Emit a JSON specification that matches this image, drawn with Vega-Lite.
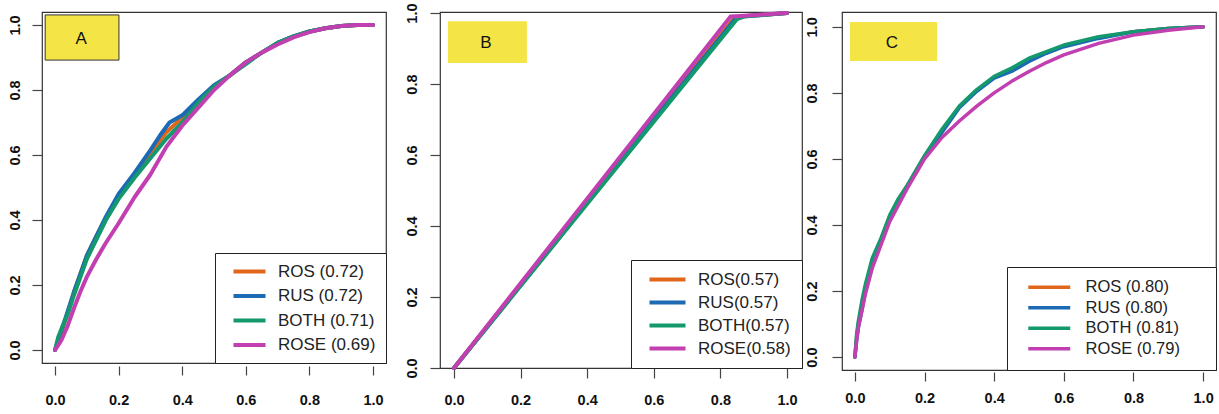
{
  "$schema": "https://vega.github.io/schema/vega-lite/v6.json",
  "background": "white",
  "padding": {"left": 6, "top": 2, "right": 2, "bottom": 2},
  "bounds": "flush",
  "spacing": 54,
  "resolve": {"scale": {"color": "independent"}, "legend": {"color": "independent"}},
  "datasets": {
    "A": [
      {"curve":"ROS (0.72)","fpr":0,"tpr":0},{"curve":"ROS (0.72)","fpr":0.01,"tpr":0.025},{"curve":"ROS (0.72)","fpr":0.02,"tpr":0.055},{"curve":"ROS (0.72)","fpr":0.04,"tpr":0.115},{"curve":"ROS (0.72)","fpr":0.06,"tpr":0.18},{"curve":"ROS (0.72)","fpr":0.08,"tpr":0.235},{"curve":"ROS (0.72)","fpr":0.1,"tpr":0.29},{"curve":"ROS (0.72)","fpr":0.13,"tpr":0.35},{"curve":"ROS (0.72)","fpr":0.16,"tpr":0.405},{"curve":"ROS (0.72)","fpr":0.2,"tpr":0.475},{"curve":"ROS (0.72)","fpr":0.25,"tpr":0.54},{"curve":"ROS (0.72)","fpr":0.3,"tpr":0.605},{"curve":"ROS (0.72)","fpr":0.35,"tpr":0.67},{"curve":"ROS (0.72)","fpr":0.4,"tpr":0.715},{"curve":"ROS (0.72)","fpr":0.45,"tpr":0.765},{"curve":"ROS (0.72)","fpr":0.5,"tpr":0.812},{"curve":"ROS (0.72)","fpr":0.55,"tpr":0.845},{"curve":"ROS (0.72)","fpr":0.6,"tpr":0.885},{"curve":"ROS (0.72)","fpr":0.65,"tpr":0.915},{"curve":"ROS (0.72)","fpr":0.7,"tpr":0.945},{"curve":"ROS (0.72)","fpr":0.75,"tpr":0.965},{"curve":"ROS (0.72)","fpr":0.8,"tpr":0.98},{"curve":"ROS (0.72)","fpr":0.85,"tpr":0.99},{"curve":"ROS (0.72)","fpr":0.9,"tpr":0.997},{"curve":"ROS (0.72)","fpr":0.95,"tpr":1},{"curve":"ROS (0.72)","fpr":1,"tpr":1},
      {"curve":"RUS (0.72)","fpr":0,"tpr":0},{"curve":"RUS (0.72)","fpr":0.01,"tpr":0.03},{"curve":"RUS (0.72)","fpr":0.02,"tpr":0.06},{"curve":"RUS (0.72)","fpr":0.04,"tpr":0.12},{"curve":"RUS (0.72)","fpr":0.06,"tpr":0.18},{"curve":"RUS (0.72)","fpr":0.08,"tpr":0.235},{"curve":"RUS (0.72)","fpr":0.1,"tpr":0.29},{"curve":"RUS (0.72)","fpr":0.13,"tpr":0.35},{"curve":"RUS (0.72)","fpr":0.16,"tpr":0.41},{"curve":"RUS (0.72)","fpr":0.2,"tpr":0.48},{"curve":"RUS (0.72)","fpr":0.25,"tpr":0.545},{"curve":"RUS (0.72)","fpr":0.3,"tpr":0.615},{"curve":"RUS (0.72)","fpr":0.33,"tpr":0.66},{"curve":"RUS (0.72)","fpr":0.36,"tpr":0.7},{"curve":"RUS (0.72)","fpr":0.4,"tpr":0.722},{"curve":"RUS (0.72)","fpr":0.45,"tpr":0.77},{"curve":"RUS (0.72)","fpr":0.5,"tpr":0.815},{"curve":"RUS (0.72)","fpr":0.55,"tpr":0.845},{"curve":"RUS (0.72)","fpr":0.6,"tpr":0.885},{"curve":"RUS (0.72)","fpr":0.65,"tpr":0.915},{"curve":"RUS (0.72)","fpr":0.7,"tpr":0.945},{"curve":"RUS (0.72)","fpr":0.75,"tpr":0.965},{"curve":"RUS (0.72)","fpr":0.8,"tpr":0.98},{"curve":"RUS (0.72)","fpr":0.85,"tpr":0.99},{"curve":"RUS (0.72)","fpr":0.9,"tpr":0.997},{"curve":"RUS (0.72)","fpr":0.95,"tpr":1},{"curve":"RUS (0.72)","fpr":1,"tpr":1},
      {"curve":"BOTH (0.71)","fpr":0,"tpr":0},{"curve":"BOTH (0.71)","fpr":0.01,"tpr":0.04},{"curve":"BOTH (0.71)","fpr":0.02,"tpr":0.065},{"curve":"BOTH (0.71)","fpr":0.04,"tpr":0.11},{"curve":"BOTH (0.71)","fpr":0.06,"tpr":0.17},{"curve":"BOTH (0.71)","fpr":0.08,"tpr":0.225},{"curve":"BOTH (0.71)","fpr":0.1,"tpr":0.28},{"curve":"BOTH (0.71)","fpr":0.13,"tpr":0.34},{"curve":"BOTH (0.71)","fpr":0.16,"tpr":0.4},{"curve":"BOTH (0.71)","fpr":0.2,"tpr":0.465},{"curve":"BOTH (0.71)","fpr":0.25,"tpr":0.53},{"curve":"BOTH (0.71)","fpr":0.3,"tpr":0.59},{"curve":"BOTH (0.71)","fpr":0.35,"tpr":0.65},{"curve":"BOTH (0.71)","fpr":0.4,"tpr":0.7},{"curve":"BOTH (0.71)","fpr":0.45,"tpr":0.76},{"curve":"BOTH (0.71)","fpr":0.5,"tpr":0.81},{"curve":"BOTH (0.71)","fpr":0.55,"tpr":0.845},{"curve":"BOTH (0.71)","fpr":0.6,"tpr":0.88},{"curve":"BOTH (0.71)","fpr":0.65,"tpr":0.915},{"curve":"BOTH (0.71)","fpr":0.7,"tpr":0.945},{"curve":"BOTH (0.71)","fpr":0.75,"tpr":0.965},{"curve":"BOTH (0.71)","fpr":0.8,"tpr":0.98},{"curve":"BOTH (0.71)","fpr":0.85,"tpr":0.99},{"curve":"BOTH (0.71)","fpr":0.9,"tpr":0.997},{"curve":"BOTH (0.71)","fpr":0.95,"tpr":1},{"curve":"BOTH (0.71)","fpr":1,"tpr":1},
      {"curve":"ROSE (0.69)","fpr":0,"tpr":0},{"curve":"ROSE (0.69)","fpr":0.01,"tpr":0.015},{"curve":"ROSE (0.69)","fpr":0.02,"tpr":0.03},{"curve":"ROSE (0.69)","fpr":0.04,"tpr":0.075},{"curve":"ROSE (0.69)","fpr":0.06,"tpr":0.13},{"curve":"ROSE (0.69)","fpr":0.08,"tpr":0.18},{"curve":"ROSE (0.69)","fpr":0.1,"tpr":0.225},{"curve":"ROSE (0.69)","fpr":0.13,"tpr":0.28},{"curve":"ROSE (0.69)","fpr":0.16,"tpr":0.33},{"curve":"ROSE (0.69)","fpr":0.2,"tpr":0.39},{"curve":"ROSE (0.69)","fpr":0.25,"tpr":0.47},{"curve":"ROSE (0.69)","fpr":0.3,"tpr":0.54},{"curve":"ROSE (0.69)","fpr":0.35,"tpr":0.625},{"curve":"ROSE (0.69)","fpr":0.4,"tpr":0.69},{"curve":"ROSE (0.69)","fpr":0.45,"tpr":0.745},{"curve":"ROSE (0.69)","fpr":0.5,"tpr":0.8},{"curve":"ROSE (0.69)","fpr":0.55,"tpr":0.845},{"curve":"ROSE (0.69)","fpr":0.6,"tpr":0.885},{"curve":"ROSE (0.69)","fpr":0.65,"tpr":0.915},{"curve":"ROSE (0.69)","fpr":0.7,"tpr":0.94},{"curve":"ROSE (0.69)","fpr":0.75,"tpr":0.962},{"curve":"ROSE (0.69)","fpr":0.8,"tpr":0.978},{"curve":"ROSE (0.69)","fpr":0.85,"tpr":0.99},{"curve":"ROSE (0.69)","fpr":0.9,"tpr":0.997},{"curve":"ROSE (0.69)","fpr":0.95,"tpr":1},{"curve":"ROSE (0.69)","fpr":1,"tpr":1}
    ],
    "B": [
      {"curve":"ROS(0.57)","fpr":0,"tpr":0},{"curve":"ROS(0.57)","fpr":0.84,"tpr":0.985},{"curve":"ROS(0.57)","fpr":0.86,"tpr":0.99},{"curve":"ROS(0.57)","fpr":1,"tpr":1},
      {"curve":"RUS(0.57)","fpr":0,"tpr":0},{"curve":"RUS(0.57)","fpr":0.845,"tpr":0.984},{"curve":"RUS(0.57)","fpr":0.86,"tpr":0.99},{"curve":"RUS(0.57)","fpr":1,"tpr":1},
      {"curve":"BOTH(0.57)","fpr":0,"tpr":0},{"curve":"BOTH(0.57)","fpr":0.85,"tpr":0.983},{"curve":"BOTH(0.57)","fpr":0.87,"tpr":0.99},{"curve":"BOTH(0.57)","fpr":1,"tpr":1},
      {"curve":"ROSE(0.58)","fpr":0,"tpr":0},{"curve":"ROSE(0.58)","fpr":0.83,"tpr":0.99},{"curve":"ROSE(0.58)","fpr":0.86,"tpr":0.992},{"curve":"ROSE(0.58)","fpr":1,"tpr":1}
    ],
    "C": [
      {"curve":"ROS (0.80)","fpr":0,"tpr":0},{"curve":"ROS (0.80)","fpr":0.005,"tpr":0.06},{"curve":"ROS (0.80)","fpr":0.01,"tpr":0.1},{"curve":"ROS (0.80)","fpr":0.02,"tpr":0.16},{"curve":"ROS (0.80)","fpr":0.03,"tpr":0.21},{"curve":"ROS (0.80)","fpr":0.05,"tpr":0.295},{"curve":"ROS (0.80)","fpr":0.075,"tpr":0.355},{"curve":"ROS (0.80)","fpr":0.1,"tpr":0.425},{"curve":"ROS (0.80)","fpr":0.125,"tpr":0.478},{"curve":"ROS (0.80)","fpr":0.15,"tpr":0.518},{"curve":"ROS (0.80)","fpr":0.2,"tpr":0.608},{"curve":"ROS (0.80)","fpr":0.25,"tpr":0.685},{"curve":"ROS (0.80)","fpr":0.3,"tpr":0.758},{"curve":"ROS (0.80)","fpr":0.35,"tpr":0.808},{"curve":"ROS (0.80)","fpr":0.4,"tpr":0.848},{"curve":"ROS (0.80)","fpr":0.45,"tpr":0.872},{"curve":"ROS (0.80)","fpr":0.5,"tpr":0.902},{"curve":"ROS (0.80)","fpr":0.55,"tpr":0.923},{"curve":"ROS (0.80)","fpr":0.6,"tpr":0.943},{"curve":"ROS (0.80)","fpr":0.7,"tpr":0.968},{"curve":"ROS (0.80)","fpr":0.8,"tpr":0.985},{"curve":"ROS (0.80)","fpr":0.9,"tpr":0.995},{"curve":"ROS (0.80)","fpr":1,"tpr":1},
      {"curve":"RUS (0.80)","fpr":0,"tpr":0},{"curve":"RUS (0.80)","fpr":0.005,"tpr":0.05},{"curve":"RUS (0.80)","fpr":0.01,"tpr":0.09},{"curve":"RUS (0.80)","fpr":0.02,"tpr":0.14},{"curve":"RUS (0.80)","fpr":0.03,"tpr":0.2},{"curve":"RUS (0.80)","fpr":0.05,"tpr":0.29},{"curve":"RUS (0.80)","fpr":0.075,"tpr":0.355},{"curve":"RUS (0.80)","fpr":0.1,"tpr":0.425},{"curve":"RUS (0.80)","fpr":0.125,"tpr":0.475},{"curve":"RUS (0.80)","fpr":0.15,"tpr":0.515},{"curve":"RUS (0.80)","fpr":0.2,"tpr":0.605},{"curve":"RUS (0.80)","fpr":0.25,"tpr":0.68},{"curve":"RUS (0.80)","fpr":0.3,"tpr":0.755},{"curve":"RUS (0.80)","fpr":0.35,"tpr":0.805},{"curve":"RUS (0.80)","fpr":0.4,"tpr":0.845},{"curve":"RUS (0.80)","fpr":0.45,"tpr":0.865},{"curve":"RUS (0.80)","fpr":0.5,"tpr":0.895},{"curve":"RUS (0.80)","fpr":0.55,"tpr":0.92},{"curve":"RUS (0.80)","fpr":0.6,"tpr":0.94},{"curve":"RUS (0.80)","fpr":0.7,"tpr":0.965},{"curve":"RUS (0.80)","fpr":0.8,"tpr":0.985},{"curve":"RUS (0.80)","fpr":0.9,"tpr":0.995},{"curve":"RUS (0.80)","fpr":1,"tpr":1},
      {"curve":"BOTH (0.81)","fpr":0,"tpr":0},{"curve":"BOTH (0.81)","fpr":0.005,"tpr":0.07},{"curve":"BOTH (0.81)","fpr":0.01,"tpr":0.11},{"curve":"BOTH (0.81)","fpr":0.02,"tpr":0.17},{"curve":"BOTH (0.81)","fpr":0.03,"tpr":0.22},{"curve":"BOTH (0.81)","fpr":0.05,"tpr":0.3},{"curve":"BOTH (0.81)","fpr":0.075,"tpr":0.36},{"curve":"BOTH (0.81)","fpr":0.1,"tpr":0.43},{"curve":"BOTH (0.81)","fpr":0.125,"tpr":0.48},{"curve":"BOTH (0.81)","fpr":0.15,"tpr":0.52},{"curve":"BOTH (0.81)","fpr":0.2,"tpr":0.61},{"curve":"BOTH (0.81)","fpr":0.25,"tpr":0.69},{"curve":"BOTH (0.81)","fpr":0.3,"tpr":0.76},{"curve":"BOTH (0.81)","fpr":0.35,"tpr":0.81},{"curve":"BOTH (0.81)","fpr":0.4,"tpr":0.85},{"curve":"BOTH (0.81)","fpr":0.45,"tpr":0.875},{"curve":"BOTH (0.81)","fpr":0.5,"tpr":0.905},{"curve":"BOTH (0.81)","fpr":0.55,"tpr":0.925},{"curve":"BOTH (0.81)","fpr":0.6,"tpr":0.945},{"curve":"BOTH (0.81)","fpr":0.7,"tpr":0.97},{"curve":"BOTH (0.81)","fpr":0.8,"tpr":0.985},{"curve":"BOTH (0.81)","fpr":0.9,"tpr":0.995},{"curve":"BOTH (0.81)","fpr":1,"tpr":1},
      {"curve":"ROSE (0.79)","fpr":0,"tpr":0},{"curve":"ROSE (0.79)","fpr":0.005,"tpr":0.05},{"curve":"ROSE (0.79)","fpr":0.01,"tpr":0.09},{"curve":"ROSE (0.79)","fpr":0.02,"tpr":0.14},{"curve":"ROSE (0.79)","fpr":0.03,"tpr":0.19},{"curve":"ROSE (0.79)","fpr":0.05,"tpr":0.27},{"curve":"ROSE (0.79)","fpr":0.075,"tpr":0.34},{"curve":"ROSE (0.79)","fpr":0.1,"tpr":0.41},{"curve":"ROSE (0.79)","fpr":0.125,"tpr":0.46},{"curve":"ROSE (0.79)","fpr":0.15,"tpr":0.51},{"curve":"ROSE (0.79)","fpr":0.2,"tpr":0.6},{"curve":"ROSE (0.79)","fpr":0.25,"tpr":0.665},{"curve":"ROSE (0.79)","fpr":0.3,"tpr":0.715},{"curve":"ROSE (0.79)","fpr":0.35,"tpr":0.76},{"curve":"ROSE (0.79)","fpr":0.4,"tpr":0.8},{"curve":"ROSE (0.79)","fpr":0.45,"tpr":0.835},{"curve":"ROSE (0.79)","fpr":0.5,"tpr":0.865},{"curve":"ROSE (0.79)","fpr":0.55,"tpr":0.892},{"curve":"ROSE (0.79)","fpr":0.6,"tpr":0.915},{"curve":"ROSE (0.79)","fpr":0.7,"tpr":0.95},{"curve":"ROSE (0.79)","fpr":0.8,"tpr":0.975},{"curve":"ROSE (0.79)","fpr":0.9,"tpr":0.99},{"curve":"ROSE (0.79)","fpr":1,"tpr":1}
    ]
  },
  "hconcat": [
    {
      "width": 344, "height": 351,
      "data": {"name": "A"},
      "layer": [
        {"data": {"values": [{}]},
         "mark": {"type": "rect", "fill": "#F5E445", "stroke": "#333", "strokeWidth": 1},
         "encoding": {"x": {"datum": -0.031, "type": "quantitative"}, "x2": {"datum": 0.201}, "y": {"datum": 1.031, "type": "quantitative"}, "y2": {"datum": 0.892}}},
        {"data": {"values": [{}]},
         "mark": {"type": "text", "fontSize": 17, "font": "Liberation Sans", "color": "#111"},
         "encoding": {"x": {"datum": 0.082, "type": "quantitative"}, "y": {"datum": 0.957, "type": "quantitative"}, "text": {"value": "A"}}},
        {"mark": {"type": "line", "strokeWidth": 4, "strokeJoin": "round", "strokeCap": "round"},
         "encoding": {
           "x": {"field": "fpr", "type": "quantitative", "scale": {"domain": [-0.041, 1.041], "nice": false, "zero": false},
                 "axis": {"title": null, "values": [0, 0.2, 0.4, 0.6, 0.8, 1], "offset": 3, "tickSize": 9, "labelPadding": 18}},
           "y": {"field": "tpr", "type": "quantitative", "scale": {"domain": [-0.04, 1.04], "nice": false, "zero": false},
                 "axis": {"title": null, "values": [0, 0.2, 0.4, 0.6, 0.8, 1], "tickSize": 10, "labelPadding": 10}},
           "color": {"field": "curve", "type": "nominal",
                     "scale": {"domain": ["ROS (0.72)", "RUS (0.72)", "BOTH (0.71)", "ROSE (0.69)"], "range": ["#E0661C", "#1C69B4", "#14996E", "#C13FB0"]},
                     "legend": {"title": null, "padding": 10, "symbolType": "M-3,0H3", "symbolOffset": 16, "symbolSize": 114, "labelOffset": 20, "labelFontSize": 17, "rowPadding": 6.5}}
         }}
      ]
    },
    {
      "bounds": "flush",
      "spacing": 40,
      "resolve": {"scale": {"color": "independent"}, "legend": {"color": "independent"}},
      "hconcat": [
        {
          "width": 362, "height": 356,
          "data": {"name": "B"},
          "layer": [
            {"data": {"values": [{}]},
             "mark": {"type": "rect", "fill": "#F5E445"},
             "encoding": {"x": {"datum": -0.018, "type": "quantitative"}, "x2": {"datum": 0.219}, "y": {"datum": 0.977, "type": "quantitative"}, "y2": {"datum": 0.859}}},
            {"data": {"values": [{}]},
             "mark": {"type": "text", "fontSize": 17, "font": "Liberation Sans", "color": "#111"},
             "encoding": {"x": {"datum": 0.096, "type": "quantitative"}, "y": {"datum": 0.915, "type": "quantitative"}, "text": {"value": "B"}}},
            {"mark": {"type": "line", "strokeWidth": 4, "strokeJoin": "round", "strokeCap": "round"},
             "encoding": {
               "x": {"field": "fpr", "type": "quantitative", "scale": {"domain": [-0.042, 1.045], "nice": false, "zero": false},
                     "axis": {"title": null, "values": [0, 0.2, 0.4, 0.6, 0.8, 1], "offset": 0, "tickSize": 10, "labelPadding": 15}},
               "y": {"field": "tpr", "type": "quantitative", "scale": {"domain": [0, 1.003], "nice": false, "zero": false},
                     "axis": {"title": null, "values": [0, 0.2, 0.4, 0.6, 0.8, 1], "tickSize": 10, "labelPadding": 11}},
               "color": {"field": "curve", "type": "nominal",
                         "scale": {"domain": ["ROS(0.57)", "RUS(0.57)", "BOTH(0.57)", "ROSE(0.58)"], "range": ["#E0661C", "#1C69B4", "#14996E", "#C13FB0"]},
                         "legend": {"title": null, "padding": 11, "symbolType": "M-3,0H3", "symbolOffset": 17, "symbolSize": 144, "labelOffset": 22, "labelFontSize": 17, "rowPadding": 5}}
             }}
          ]
        },
        {
          "width": 374, "height": 358,
          "data": {"name": "C"},
          "layer": [
            {"data": {"values": [{}]},
             "mark": {"type": "rect", "fill": "#F5E445"},
             "encoding": {"x": {"datum": -0.014, "type": "quantitative"}, "x2": {"datum": 0.236}, "y": {"datum": 1.015, "type": "quantitative"}, "y2": {"datum": 0.897}}},
            {"data": {"values": [{}]},
             "mark": {"type": "text", "fontSize": 17, "font": "Liberation Sans", "color": "#111"},
             "encoding": {"x": {"datum": 0.106, "type": "quantitative"}, "y": {"datum": 0.952, "type": "quantitative"}, "text": {"value": "C"}}},
            {"mark": {"type": "line", "strokeWidth": 3.5, "strokeJoin": "round", "strokeCap": "round"},
             "encoding": {
               "x": {"field": "fpr", "type": "quantitative", "scale": {"domain": [-0.037, 1.037], "nice": false, "zero": false},
                     "axis": {"title": null, "values": [0, 0.2, 0.4, 0.6, 0.8, 1], "offset": 2, "tickSize": 9, "labelPadding": 10}},
               "y": {"field": "tpr", "type": "quantitative", "scale": {"domain": [-0.039, 1.045], "nice": false, "zero": false},
                     "axis": {"title": null, "values": [0, 0.2, 0.4, 0.6, 0.8, 1], "tickSize": 10, "labelPadding": 13}},
               "color": {"field": "curve", "type": "nominal",
                         "scale": {"domain": ["ROS (0.80)", "RUS (0.80)", "BOTH (0.81)", "ROSE (0.79)"], "range": ["#E0661C", "#1C69B4", "#14996E", "#C13FB0"]},
                         "legend": {"title": " ", "titleOrient": "right", "titlePadding": 24, "padding": 12, "symbolType": "M-4,0H4", "symbolStrokeWidth": 3.5, "symbolOffset": 22, "symbolSize": 110, "labelOffset": 28, "labelFontSize": 16.5, "rowPadding": 3.5}}
             }}
          ]
        }
      ]
    }
  ],
  "config": {
    "view": {"stroke": "#333", "strokeWidth": 1.2},
    "axis": {"grid": false, "domain": false, "format": ".1f", "tickColor": "#444", "tickWidth": 1.2,
             "labelFont": "Liberation Sans", "labelFontWeight": "bold", "labelFontSize": 14.5, "labelColor": "#111",
             "labelFlush": false, "labelOverlap": false},
    "axisY": {"labelAngle": -90, "labelAlign": "center", "labelBaseline": "bottom"},
    "legend": {"orient": "bottom-right", "offset": 0, "strokeColor": "#222", "fillColor": "white",
               "symbolType": "stroke", "symbolStrokeWidth": 4, "labelFont": "Liberation Sans", "labelColor": "#222",
               "cornerRadius": 0}
  }
}
